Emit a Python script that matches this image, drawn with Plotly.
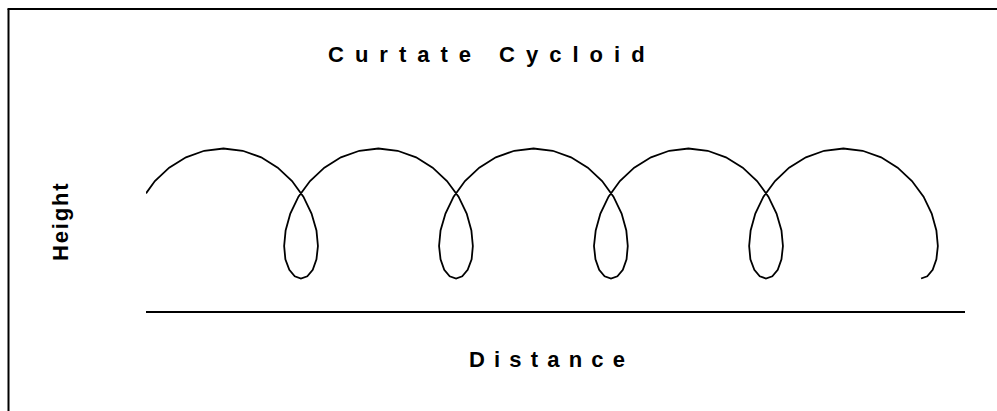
import plotly.graph_objects as go

# curve points (distance, height)
distance = [
    0.00, 0.36, 0.94, 1.62, 2.36, 3.14, 3.92, 4.67, 5.34, 5.92, 6.38, 6.71, 6.91, 6.97, 6.91, 6.76, 6.54,
    6.28, 6.03, 5.81, 5.65, 5.60, 5.66, 5.85, 6.18, 6.65, 7.23, 7.90, 8.65,
    9.42, 10.20, 10.95, 11.62, 12.20, 12.67, 13.00, 13.19, 13.25, 13.20, 13.04, 12.82,
    12.57, 12.31, 12.09, 11.94, 11.88, 11.94, 12.14, 12.47, 12.93, 13.51, 14.18, 14.93,
    15.71, 16.49, 17.23, 17.91, 18.49, 18.95, 19.28, 19.47, 19.53, 19.48, 19.33, 19.11,
    18.85, 18.59, 18.37, 18.22, 18.16, 18.23, 18.42, 18.75, 19.21, 19.79, 20.47, 21.21,
    21.99, 22.77, 23.51, 24.19, 24.77, 25.23, 25.56, 25.76, 25.82, 25.76, 25.61, 25.39,
    25.13, 24.88, 24.66, 24.50, 24.45, 24.51, 24.70, 25.03, 25.50, 26.07, 26.75, 27.49,
    28.27, 29.05, 29.80, 30.47, 31.05, 31.52, 31.85, 32.04, 32.10, 32.04, 31.89, 31.67,
    31.42,
]
height = [
    1.62, 2.00, 2.41, 2.73, 2.93, 3.00, 2.93, 2.73, 2.41, 2.00, 1.52, 1.00, 0.48, 0.00, -0.41, -0.73, -0.93,
    -1.00, -0.93, -0.73, -0.41, 0.00, 0.48, 1.00, 1.52, 2.00, 2.41, 2.73, 2.93,
    3.00, 2.93, 2.73, 2.41, 2.00, 1.52, 1.00, 0.48, 0.00, -0.41, -0.73, -0.93,
    -1.00, -0.93, -0.73, -0.41, 0.00, 0.48, 1.00, 1.52, 2.00, 2.41, 2.73, 2.93,
    3.00, 2.93, 2.73, 2.41, 2.00, 1.52, 1.00, 0.48, 0.00, -0.41, -0.73, -0.93,
    -1.00, -0.93, -0.73, -0.41, 0.00, 0.48, 1.00, 1.52, 2.00, 2.41, 2.73, 2.93,
    3.00, 2.93, 2.73, 2.41, 2.00, 1.52, 1.00, 0.48, 0.00, -0.41, -0.73, -0.93,
    -1.00, -0.93, -0.73, -0.41, 0.00, 0.48, 1.00, 1.52, 2.00, 2.41, 2.73, 2.93,
    3.00, 2.93, 2.73, 2.41, 2.00, 1.52, 1.00, 0.48, 0.00, -0.41, -0.73, -0.93,
    -1.00,
]

title_text = "Curtate Cycloid"
x_title = "Distance"
y_title = "Height"

FONT = "Liberation Sans, Arial, sans-serif"

W, H = 997, 411
# plot area in pixels: left 146, right 965, bottom 311, top 116
L, R, B, T = 146, 965, 311, 116


def spaced(text, gap):
    # fake letter spacing with unicode space characters
    return gap.join(text)


def px(x):
    return (x - L) / (R - L)


def py(y):
    return (B - y) / (B - T)


fig = go.Figure()
fig.add_trace(go.Scatter(x=distance, y=height, mode="lines",
                         line=dict(color="black", width=1.8),
                         hoverinfo="skip", showlegend=False))

fig.add_annotation(text=spaced(title_text, "\u2002"), x=px(486), y=py(54),
                   xref="paper", yref="paper", showarrow=False,
                   xanchor="center", yanchor="middle",
                   font=dict(family=FONT, size=22, color="black", weight="bold"))
fig.add_annotation(text=spaced(x_title, "\u2004\u200a"), x=px(547), y=py(359),
                   xref="paper", yref="paper", showarrow=False,
                   xanchor="center", yanchor="middle",
                   font=dict(family=FONT, size=22, color="black", weight="bold"))
fig.add_annotation(text=spaced(y_title, "\u200a"), x=px(60), y=py(222),
                   xref="paper", yref="paper", showarrow=False, textangle=-90,
                   xanchor="center", yanchor="middle",
                   font=dict(family=FONT, size=22, color="black", weight="bold"))

# chart border: only the left and top edges fall inside the picture
border = dict(color="black", width=2)
fig.add_shape(type="line", xref="paper", yref="paper",
              x0=px(8.5), x1=px(8.5), y0=py(430), y1=py(9), line=border)
fig.add_shape(type="line", xref="paper", yref="paper",
              x0=px(7.5), x1=px(1020), y0=py(9), y1=py(9), line=border)

fig.update_xaxes(range=[0, 33.2], showgrid=False, zeroline=False,
                 showticklabels=False, ticks="", showline=True,
                 linecolor="black", linewidth=2)
fig.update_yaxes(range=[-2, 4], showgrid=False, zeroline=False,
                 showticklabels=False, ticks="", showline=False)

fig.update_layout(width=W, height=H,
                  margin=dict(l=L, r=W - R, t=T, b=H - B),
                  paper_bgcolor="white", plot_bgcolor="white")

# drop the default body margin so the figure fills the window exactly
fig.write_html("out.html", config={"displayModeBar": False},
               post_script="document.body.style.margin='0';"
                           "document.body.style.overflow='hidden';")
